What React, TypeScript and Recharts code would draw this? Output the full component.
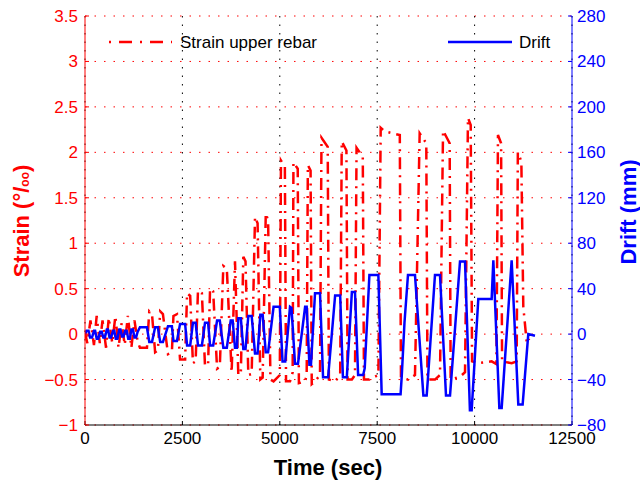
import { LineChart, Line, XAxis, YAxis, CartesianGrid } from "recharts";

const FONT = '"Liberation Sans", Arial, Helvetica, sans-serif';

const X_TICKS = [0, 2500, 5000, 7500, 10000, 12500];
const STRAIN_TICKS = [-1, -0.5, 0, 0.5, 1, 1.5, 2, 2.5, 3, 3.5];
const STRAIN_MINOR_TICKS = Array.from({ length: 46 }, (_, i) => Math.round((-1 + i * 0.1) * 10) / 10);
const DRIFT_TICKS = [-80, -40, 0, 40, 80, 120, 160, 200, 240, 280];

// drift (mm) vs time (sec)
const DRIFT_TIME = [
  0, 40, 90, 130, 180, 230, 260, 300, 340, 390, 430, 470, 510, 560, 590, 630, 670, 720, 750,
  790, 830, 880, 910, 950, 990, 1030, 1070, 1110, 1150, 1190, 1230, 1270, 1310, 1350,
  1410, 1590, 1650, 1720, 1800, 1870, 1930, 2000, 2130, 2230, 2270, 2360, 2440, 2570,
  2620, 2700, 2770, 2840, 2900, 3000, 3080, 3160, 3210, 3290, 3390, 3460,
  3551, 3640, 3740, 3790, 3850, 3900, 3935, 4000, 4064, 4120, 4192, 4278, 4364, 4430, 4500, 4560, 4640, 4700,
  4840, 5000, 5070, 5140, 5262, 5300, 5390, 5467, 5650, 5690, 5760, 5800,
  5904, 6032, 6110, 6240, 6420, 6550, 6620, 6720, 6850, 6930, 7010, 7140,
  7180, 7300, 7530, 7615, 8100, 8130, 8200, 8290, 8470, 8685, 8770, 8800, 8983, 9112, 9266, 9369, 9400,
  9625, 9754, 9880, 9925, 10095, 10438, 10481, 10635, 10695, 10951, 11122, 11233, 11378, 11550,
];
const DRIFT_MM = [
  0, 3, 3, -3, -3, 3, 3, -4, -4, 2, 2, -3, -3, 4, 4, -3, -3, 3, 3,
  -4, -4, 4, 4, -2, -2, 3, 3, -4, -4, 4, 4, -3, -3, 2,
  6, 6, -7, -7, 6, 6, -7, -7, 7, 7, -6, -6, 9, 9,
  -10, -10, 10, 10, -10, -10, 10, 10, -10, -10, 12, 12,
  -12, -12, 12, 12, -12, -12, 14, 14, -13, -13, 16, 16, -17, -17, 17, 17, -16, -16,
  24, 24, -24, -24, 24, 23, -26, -26, 24, 24, -27, -27,
  36, 36, -38, -38, 34, 34, -38, -38, 37, 37, -36, -36,
  -30, 52, 52, -53, -53, -37, 10, 52, 52, -54, -54, -40, 52, 52, -54, -54, -40,
  64, 64, -67, -67, 31, 31, 65, -65, -65, 65, -62, -62, 0, -1.5,
];

// strain upper rebar (per mille) vs time (sec)
const STRAIN_TIME = [
  0, 60, 140, 230, 300, 380, 450, 540, 610, 700, 780, 860, 940, 1020, 1100, 1190, 1270, 1350,
  1410, 1590, 1650, 1720, 1800, 1870, 1930, 2000, 2130, 2230, 2270, 2360, 2440, 2570,
  2620, 2700, 2770, 2840, 2900, 3000, 3080, 3160, 3210, 3290, 3390, 3460,
  3551, 3640, 3764, 3850, 3935, 4000, 4064, 4120, 4192, 4278, 4364, 4430, 4500, 4560, 4640, 4700, 4760,
  4840, 5000, 5030, 5130, 5160, 5262, 5330, 5350, 5460, 5490, 5650, 5690, 5720, 5790, 5820,
  5904, 6032, 6070, 6230, 6260, 6420, 6550, 6590, 6710, 6740, 6850, 6930, 6970, 7130, 7160,
  7300, 7530, 7590, 7700, 8080, 8110, 8290, 8470, 8590, 8760, 8790, 8983, 9112, 9190, 9360, 9385,
  9625, 9754, 9830, 9900, 9935, 10095, 10438, 10560, 10600, 10680, 10705, 10951, 11080, 11110, 11200,
  11250, 11340, 11400,
];
const STRAIN_VALUE = [
  0.02, -0.1, 0.15, -0.12, 0.2, -0.1, 0.15, -0.15, 0.18, -0.1, 0.2, -0.15, 0.12, -0.12, 0.2, -0.15, 0.15, -0.08,
  -0.15, -0.15, 0.25, 0.22, -0.2, -0.18, 0.25, 0.22, -0.22, -0.2, 0.2, 0.22, -0.28, -0.28,
  0.45, 0.42, -0.32, -0.3, 0.48, 0.45, -0.35, -0.33, 0.5, 0.47, -0.38, -0.36,
  0.75, 0.72, -0.42, 0.8, -0.45, -0.43, 0.85, 0.8, -0.45, -0.44, 1.29, 1.22, -0.5, -0.48, 1.33, 1.25, -0.5,
  -0.52, -0.45, 1.91, 1.84, -0.52, -0.52, -0.42, 1.89, 1.82, -0.54, -0.52, -0.45, 1.86, 1.8, -0.55,
  -0.52, -0.45, 2.16, 2.06, -0.5, -0.52, -0.45, 2.12, 2.02, -0.5, -0.5, -0.45, 2.05, 1.95, -0.5,
  -0.5, -0.45, 2.27, 2.23, 2.19, -0.48, -0.5, -0.45, 2.21, 2.1, -0.5, -0.5, -0.45, 2.24, 2.1, -0.5,
  -0.47, -0.42, 2.38, 2.3, -0.3, -0.32, -0.3, -0.33, 2.19, 2.1, -0.3, -0.32, -0.3, 2.0, 1.9,
  0.3, -0.1, -0.05,
];

const driftData = DRIFT_TIME.map((t, i) => ({ t, drift: DRIFT_MM[i] }));
const strainData = STRAIN_TIME.map((t, i) => ({ t, strain: STRAIN_VALUE[i] }));

const minus = (v: number) => String(v).replace("-", "\u2212");

const XLabel = () => (
  <text x={328} y={475} textAnchor="middle" fontFamily={FONT} fontWeight="bold" fontSize={22} fill="#000">
    Time (sec)
  </text>
);

const StrainLabel = () => (
  <text
    x={29}
    y={221}
    transform="rotate(-90, 29, 221)"
    textAnchor="middle"
    fontFamily={FONT}
    fontWeight="bold"
    fontSize={22}
    fill="#ff0000"
  >
    Strain (°/<tspan fontSize={12}>oo</tspan>)
  </text>
);

const DriftLabel = () => (
  <text
    x={636}
    y={212}
    transform="rotate(-90, 636, 212)"
    textAnchor="middle"
    fontFamily={FONT}
    fontWeight="bold"
    fontSize={22}
    fill="#0000ff"
  >
    Drift (mm)
  </text>
);

const App = () => {
  return (
    <div style={{ position: "absolute", left: 0, top: 0, width: 640, height: 485, background: "#fff" }}>
      <LineChart width={640} height={485} margin={{ top: 16, right: 0, bottom: 0, left: 0 }}>
        <CartesianGrid xAxisId="x" yAxisId="left" vertical={false} stroke="#ff0000" strokeDasharray="1.5 8" />
        <CartesianGrid xAxisId="x" yAxisId="left" horizontal={false} stroke="#000" strokeDasharray="1.5 7" />
        <XAxis
          xAxisId="x"
          dataKey="t"
          type="number"
          domain={[0, 12500]}
          ticks={X_TICKS}
          allowDataOverflow
          height={60}
          stroke="#000"
          tickSize={-4}
          tickMargin={11}
          tick={{ fill: "#000", fontSize: 17, fontFamily: FONT }}
          label={<XLabel />}
        />
        <YAxis
          yAxisId="minor"
          orientation="left"
          width={0}
          type="number"
          domain={[-1, 3.5]}
          ticks={STRAIN_MINOR_TICKS}
          interval={0}
          allowDataOverflow
          axisLine={false}
          stroke="#ff0000"
          tickSize={-2}
          tick={() => <g />}
        />
        <YAxis
          yAxisId="left"
          orientation="left"
          width={85}
          type="number"
          domain={[-1, 3.5]}
          ticks={STRAIN_TICKS}
          interval={0}
          allowDataOverflow
          stroke="#ff0000"
          tickSize={-4}
          tickMargin={11}
          tickFormatter={minus}
          tick={{ fill: "#ff0000", fontSize: 17, fontFamily: FONT }}
          label={<StrainLabel />}
        />
        <YAxis
          yAxisId="right"
          orientation="right"
          width={68}
          type="number"
          domain={[-80, 280]}
          ticks={DRIFT_TICKS}
          interval={0}
          allowDataOverflow
          stroke="#0000ff"
          tickSize={-4}
          tickMargin={9}
          tickFormatter={minus}
          tick={{ fill: "#0000ff", fontSize: 17, fontFamily: FONT }}
          label={<DriftLabel />}
        />
        <Line
          xAxisId="x"
          yAxisId="left"
          data={strainData}
          dataKey="strain"
          type="linear"
          stroke="#ff0000"
          strokeWidth={2.5}
          strokeDasharray="12 6 2 6"
          dot={false}
          isAnimationActive={false}
        />
        <Line
          xAxisId="x"
          yAxisId="right"
          data={driftData}
          dataKey="drift"
          type="linear"
          stroke="#0000ff"
          strokeWidth={2.5}
          dot={false}
          isAnimationActive={false}
        />
      </LineChart>
      <svg width={640} height={485} style={{ position: "absolute", left: 0, top: 0, pointerEvents: "none" }}>
        <line x1={109} y1={42} x2={172} y2={42} stroke="#ff0000" strokeWidth={2.5} strokeDasharray="2 8 13 8" />
        <text x={180} y={48} fontFamily={FONT} fontSize={17} fill="#000">
          Strain upper rebar
        </text>
        <line x1={448} y1={42} x2={512} y2={42} stroke="#0000ff" strokeWidth={2.5} />
        <text x={519} y={48} fontFamily={FONT} fontSize={17} fill="#000">
          Drift
        </text>
      </svg>
    </div>
  );
};

export default App;
